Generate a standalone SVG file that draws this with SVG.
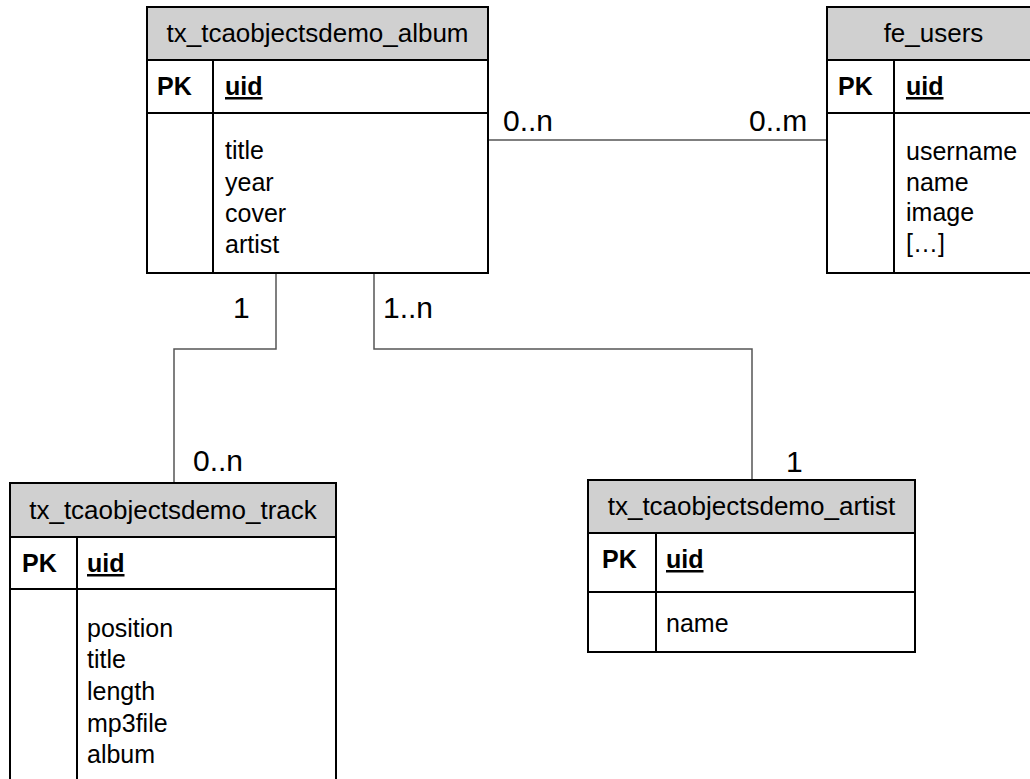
<svg xmlns="http://www.w3.org/2000/svg" width="1030" height="779" viewBox="0 0 1030 779">
<style>
.box{fill:#fff;stroke:#000;stroke-width:2}
.hdr{fill:#d0d0d0;stroke:#000;stroke-width:2}
.ln{stroke:#000;stroke-width:2;fill:none}
.conn{stroke:#555;stroke-width:1.5;fill:none}
text{font-family:"Liberation Sans",Arial,sans-serif;fill:#000}
.h{font-size:26px;text-anchor:middle}
.f{font-size:25px}
.pk{font-size:25px;font-weight:bold}
.uid{font-size:25px;font-weight:bold;text-decoration:underline}
.lbl{font-size:30px}
</style>
<rect width="1030" height="779" fill="#fff"/>
<g id="connectors">
<path class="conn" d="M488 140 H827"/>
<path class="conn" d="M276 273 V349 H174 V483"/>
<path class="conn" d="M374 273 V349 H752 V480"/>
<text class="lbl" x="503" y="131">0..n</text>
<text class="lbl" x="749" y="131">0..m</text>
<text class="lbl" x="233" y="318">1</text>
<text class="lbl" x="383" y="318">1..n</text>
<text class="lbl" x="193" y="471">0..n</text>
<text class="lbl" x="786" y="472">1</text>
</g>
<g id="album">
<rect class="box" x="147" y="7" width="341" height="266"/>
<rect class="hdr" x="147" y="7" width="341" height="53"/>
<path class="ln" d="M147 113 H488 M213 60 V273"/>
<text class="h" x="317.5" y="42">tx_tcaobjectsdemo_album</text>
<text class="pk" x="157" y="95">PK</text>
<text class="uid" x="225" y="95">uid</text>
<text class="f" x="225" y="159">title</text>
<text class="f" x="225" y="191">year</text>
<text class="f" x="225" y="222">cover</text>
<text class="f" x="225" y="253">artist</text>
</g>
<g id="fe_users">
<rect class="box" x="827" y="7" width="213" height="266"/>
<rect class="hdr" x="827" y="7" width="213" height="53"/>
<path class="ln" d="M827 113 H1040 M894 60 V273"/>
<text class="h" x="933.5" y="42">fe_users</text>
<text class="pk" x="838" y="95">PK</text>
<text class="uid" x="906" y="95">uid</text>
<text class="f" x="906" y="160">username</text>
<text class="f" x="906" y="191">name</text>
<text class="f" x="906" y="221">image</text>
<text class="f" x="906" y="252">[…]</text>
</g>
<g id="track">
<rect class="box" x="10" y="483" width="326" height="320"/>
<rect class="hdr" x="10" y="483" width="326" height="54"/>
<path class="ln" d="M10 589 H336 M77 537 V803"/>
<text class="h" x="173" y="519">tx_tcaobjectsdemo_track</text>
<text class="pk" x="22" y="572">PK</text>
<text class="uid" x="87" y="572">uid</text>
<text class="f" x="87" y="637">position</text>
<text class="f" x="87" y="668">title</text>
<text class="f" x="87" y="700">length</text>
<text class="f" x="87" y="732">mp3file</text>
<text class="f" x="87" y="763">album</text>
</g>
<g id="artist">
<rect class="box" x="588" y="480" width="327" height="172"/>
<rect class="hdr" x="588" y="480" width="327" height="53"/>
<path class="ln" d="M588 592 H915 M656 533 V652"/>
<text class="h" x="751.5" y="515">tx_tcaobjectsdemo_artist</text>
<text class="pk" x="602" y="568">PK</text>
<text class="uid" x="666" y="568">uid</text>
<text class="f" x="666" y="632">name</text>
</g>
</svg>
